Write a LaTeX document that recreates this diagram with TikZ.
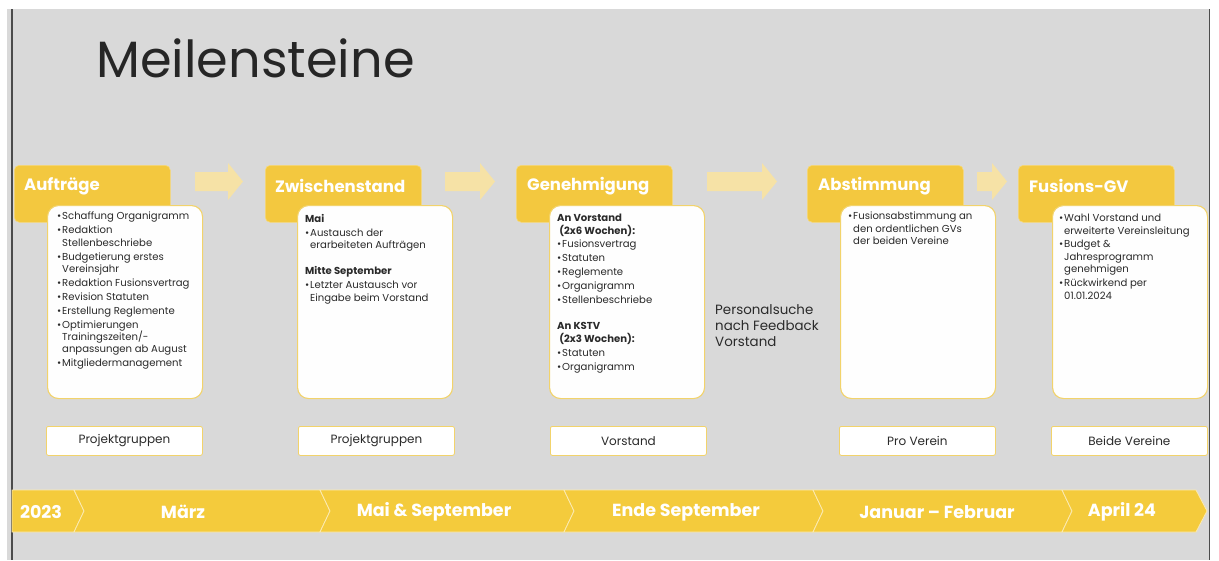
\documentclass[tikz,border=0pt]{standalone}
\usepackage{fontspec}
\setmainfont{Poppins}
\usetikzlibrary{calc}
\definecolor{bggray}{HTML}{D9D9D9}
\definecolor{hdryel}{HTML}{F3C83F}
\definecolor{tlyel}{HTML}{F4CB3C}
\definecolor{arrowyel}{HTML}{F6E2A6}
\definecolor{boxborder}{HTML}{F2D36B}
\definecolor{titlec}{HTML}{262626}
\definecolor{txtc}{HTML}{2A2A2A}
\newcommand{\bi}[1]{\makebox[5pt][l]{•}#1}
\newcommand{\ci}[1]{\hspace*{5pt}#1}
\newcommand{\blockarrow}[2]{\fill[arrowyel] (#1,172) -- ({#2-15},172) -- ({#2-15},163) -- (#2,181.5) -- ({#2-15},200) -- ({#2-15},191) -- (#1,191) -- cycle;}
\tikzset{
  hdr/.style={fill=hdryel, draw=hdryel!70!white, line width=0.6pt, rounded corners=5pt, anchor=north west, minimum width=156pt, minimum height=57pt, inner sep=0pt},
  hdrtext/.style={anchor=west, text=white, font=\bfseries\fontsize{16.5}{18}\selectfont, inner sep=0pt},
  cbox/.style={fill=white!99!gray, draw=boxborder, line width=1.1pt, rounded corners=11pt, anchor=north west, minimum width=155pt, minimum height=193pt, inner sep=0pt},
  ctext/.style={anchor=north west, align=left, text=txtc, font=\fontsize{10.1}{12.4}\selectfont, inner sep=0pt},
  lbox/.style={fill=white, draw=boxborder, line width=0.8pt, rounded corners=2pt, minimum width=156pt, minimum height=29pt, anchor=north west, inner sep=0pt},
  ltext/.style={text=txtc, font=\fontsize{12}{14}\selectfont, inner sep=0pt},
  tltext/.style={text=white, font=\bfseries\fontsize{17.5}{19}\selectfont, inner sep=0pt},
  seg/.style={fill=tlyel, draw=tlyel!40!white, line width=0.8pt, line join=miter},
}
\begin{document}
\begin{tikzpicture}[x=1pt,y=-1pt]
\useasboundingbox (0,0) rectangle (1219,560);
\fill[white] (0,0) rectangle (1219,560);
\fill[bggray] (7,9) rectangle (1209,560);
\draw[black!70, line width=1.2pt] (12,9) -- (12,560);
\draw[black!70, line width=1.2pt] (1209.5,9) -- (1209.5,560);

% title
\node[anchor=base west, text=titlec, font=\fontsize{51}{55}\selectfont, inner sep=0pt] (title) at (96,77) {Meilensteine};

% block arrows
\blockarrow{195}{243}
\blockarrow{445}{495}
\blockarrow{707}{777}
\blockarrow{977}{1007}

% headers
\node[hdr] (h1) at (14,165) {};
\node[hdr] (h2) at (265,165) {};
\node[hdr] (h3) at (516,165) {};
\node[hdr] (h4) at (807,165) {};
\node[hdr] (h5) at (1018,165) {};
\node[hdrtext] (ht1) at ($(h1.north west)+(10,21)$) {Aufträge};
\node[hdrtext] (ht2) at ($(h2.north west)+(10,21)$) {Zwischenstand};
\node[hdrtext] (ht3) at ($(h3.north west)+(11,21)$) {Genehmigung};
\node[hdrtext] (ht4) at ($(h4.north west)+(11,21)$) {Abstimmung};
\node[hdrtext] (ht5) at ($(h5.north west)+(11,21)$) {Fusions-GV};

% content boxes
\node[cbox] (c1) at (47,205) {};
\node[cbox] (c2) at (297,205) {};
\node[cbox] (c3) at (549,205) {};
\node[cbox] (c4) at (840,205) {};
\node[cbox] (c5) at (1052,205) {};

\node[ctext] (t1) at (57,212) {\bi{Schaffung Organigramm}\\[1.5pt]
\bi{Redaktion}\\ \ci{Stellenbeschriebe}\\[1.5pt]
\bi{Budgetierung erstes}\\ \ci{Vereinsjahr}\\[1.5pt]
\bi{Redaktion Fusionsvertrag}\\[1.5pt]
\bi{Revision Statuten}\\[1.5pt]
\bi{Erstellung Reglemente}\\[1.5pt]
\bi{Optimierungen}\\ \ci{Trainingszeiten/-}\\ \ci{anpassungen ab August}\\[1.5pt]
\bi{Mitgliedermanagement}};

\node[ctext] (t2) at (305,214) {\textbf{Mai}\\[1.5pt]
\bi{Austausch der}\\ \ci{erarbeiteten Aufträgen}\\[14pt]
\textbf{Mitte September}\\[1.5pt]
\bi{Letzter Austausch vor}\\ \ci{Eingabe beim Vorstand}};

\node[ctext] (t3) at (557,214) {\textbf{An Vorstand}\\ \textbf{\ (2x6 Wochen):}\\[1.5pt]
\bi{Fusionsvertrag}\\[1.5pt]
\bi{Statuten}\\[1.5pt]
\bi{Reglemente}\\[1.5pt]
\bi{Organigramm}\\[1.5pt]
\bi{Stellenbeschriebe}\\[14pt]
\textbf{An KSTV}\\ \textbf{\ (2x3 Wochen):}\\[1.5pt]
\bi{Statuten}\\[1.5pt]
\bi{Organigramm}};

\node[ctext] (t4) at (848,212) {\bi{Fusionsabstimmung an}\\ \ci{den ordentlichen GVs}\\ \ci{der beiden Vereine}};

\node[ctext] (t5) at (1059,214) {\bi{Wahl Vorstand und}\\ \ci{erweiterte Vereinsleitung}\\[1.5pt]
\bi{Budget \&}\\ \ci{Jahresprogramm}\\ \ci{genehmigen}\\[1.5pt]
\bi{Rückwirkend per}\\ \ci{01.01.2024}};

% side note
\node[anchor=north west, align=left, text=txtc, font=\fontsize{13.4}{16}\selectfont, inner sep=0pt] (note) at (715,304) {Personalsuche\\nach Feedback\\Vorstand};

% label boxes
\node[lbox] (l1) at (46,426) {};
\node[lbox] (l2) at (298,426) {};
\node[lbox] (l3) at (550,426) {};
\node[lbox] (l4) at (839,426) {};
\node[lbox] (l5) at (1051,426) {};
\node[ltext] (lt1) at (l1.center) {Projektgruppen};
\node[ltext] (lt2) at (l2.center) {Projektgruppen};
\node[ltext] (lt3) at (l3.center) {Vorstand};
\node[ltext] (lt4) at (l4.center) {Pro Verein};
\node[ltext] (lt5) at (l5.center) {Beide Vereine};

% timeline
\path[seg] (12,490) -- (74,490) -- (84,511) -- (74,532) -- (12,532) -- cycle;
\path[seg] (74,490) -- (320,490) -- (330,511) -- (320,532) -- (74,532) -- (84,511) -- cycle;
\path[seg] (320,490) -- (564,490) -- (574,511) -- (564,532) -- (320,532) -- (330,511) -- cycle;
\path[seg] (564,490) -- (813,490) -- (823,511) -- (813,532) -- (564,532) -- (574,511) -- cycle;
\path[seg] (813,490) -- (1062,490) -- (1072,511) -- (1062,532) -- (813,532) -- (823,511) -- cycle;
\path[seg] (1062,490) -- (1196,490) -- (1207,511) -- (1196,532) -- (1062,532) -- (1072,511) -- cycle;
\node[tltext] (y1) at (41,512) {2023};
\node[tltext] (y2) at (183,512) {März};
\node[tltext] (y3) at (434,512) {Mai \& September};
\node[tltext] (y4) at (686,512) {Ende September};
\node[tltext] (y5) at (937,512) {Januar – Februar};
\node[tltext] (y6) at (1122,512) {April 24};
\end{tikzpicture}
\end{document}
